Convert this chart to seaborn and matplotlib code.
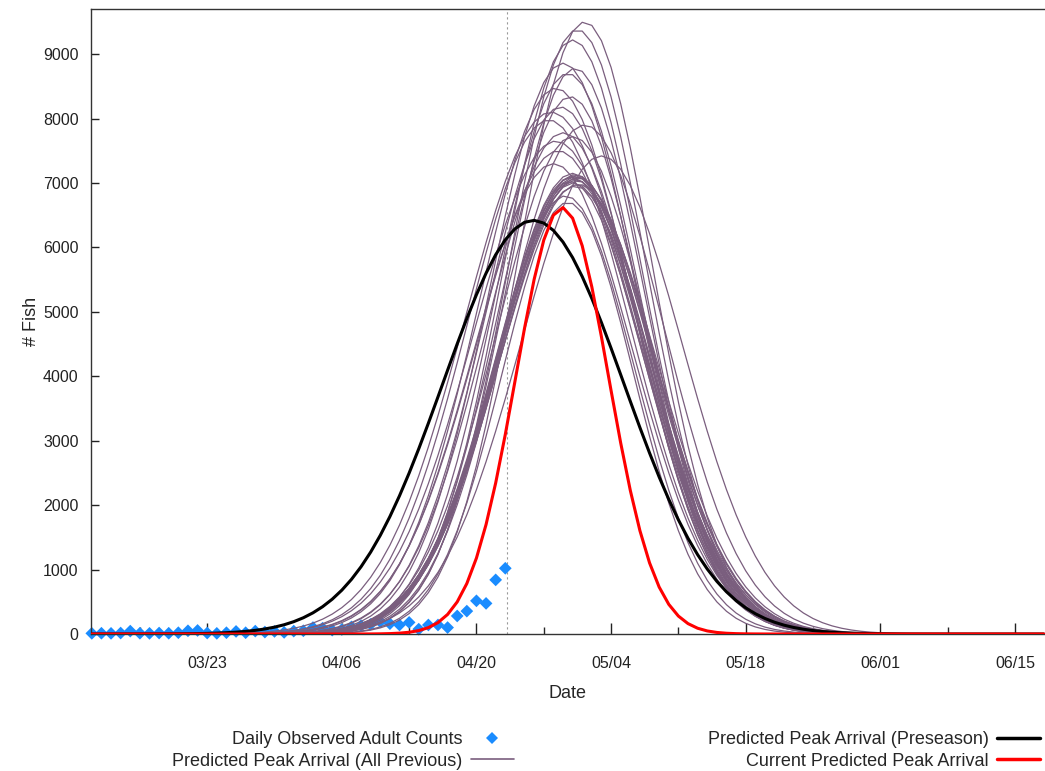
import matplotlib
matplotlib.use("Agg")
import matplotlib.pyplot as plt
from matplotlib.lines import Line2D
import seaborn as sns
import numpy as np
import pandas as pd

YEAR = "2023"

# Daily observed adult counts (03/11 -> 04/23)
obs_start = "03/11"
obs_counts = [10, 12, 10, 15, 45, 12, 10, 15, 12, 20, 50, 55, 15, 10, 20, 40, 20, 45, 30, 40, 25,
              45, 50, 100, 90, 60, 70, 110, 130, 150, 190, 160, 140, 180, 75, 140, 140, 100, 280,
              355, 515, 475, 840, 1020]

# Predicted peak arrival curves: peak date, peak count, spread (days)
prev_peak_dates = ["05/01 06:00", "04/30 12:00", "04/30 00:00", "04/29 00:00", "04/30 06:00",
                   "04/29 12:00", "04/28 06:00", "04/29 18:00", "04/28 18:00", "04/27 12:00",
                   "05/01 06:00", "04/29 00:00", "04/30 00:00", "05/03 00:00",
                   "04/30 00:00", "04/30 06:00", "04/30 03:00", "04/30 09:00", "04/29 21:00",
                   "04/30 12:00", "04/30 04:00", "04/30 08:00", "04/29 18:00", "04/30 02:00",
                   "04/30 14:00", "04/30 06:00", "04/29 06:00", "04/29 12:00",
                   "04/27 18:00", "04/28 06:00", "04/28 00:00", "04/28 12:00"]
prev_peak_counts = [9500, 9380, 9220, 8860, 8780, 8700, 8470, 8340, 8180, 7980, 7900, 7780, 7720,
                    7420, 7150, 7130, 7110, 7100, 7090, 7080, 7060, 7040, 7020, 7000, 6980, 6950,
                    6800, 6700, 8100, 7650, 7300, 7500]
prev_spreads = [7.0, 7.2, 7.3, 7.6, 7.2, 7.5, 8.0, 7.4, 7.8, 8.4, 8.2, 8.0, 7.9, 8.4, 7.9, 8.0,
                7.8, 8.1, 7.8, 8.0, 7.9, 8.1, 7.7, 7.8, 8.2, 7.9, 7.2, 6.8, 8.9, 8.6, 8.2, 8.4]

preseason_peak = ("04/25 22:00", 6420, 9.4)
current_peak = ("04/28 22:00", 6620, 4.8)

today = "04/23 04:00"
tick_labels = ["03/23", "04/06", "04/20", "05/04", "05/18", "06/01", "06/15"]
x_range = ("03/10 22:00", "06/18 03:00")
y_ticks = [0, 1000, 2000, 3000, 4000, 5000, 6000, 7000, 8000, 9000]

PURPLE = "#7a5e7e"
BLUE = "#1a8cff"


def to_date(s):
    return pd.to_datetime(YEAR + "/" + s)


days = pd.date_range(to_date("03/11"), to_date("06/18"), freq="D")


def run_curve(peak_date, peak, spread):
    t = (days - to_date(peak_date)) / pd.Timedelta(days=1)
    return peak * np.exp(-0.5 * (np.asarray(t) / spread) ** 2)


prev = pd.concat([
    pd.DataFrame({"date": days, "fish": run_curve(d, p, s), "curve": i})
    for i, (d, p, s) in enumerate(zip(prev_peak_dates, prev_peak_counts, prev_spreads))
])
obs = pd.DataFrame({"date": pd.date_range(to_date(obs_start), periods=len(obs_counts), freq="D"),
                    "fish": obs_counts})
pre = pd.DataFrame({"date": days, "fish": run_curve(*preseason_peak)})
cur = pd.DataFrame({"date": days, "fish": run_curve(*current_peak)})

sns.set_style("white")
plt.rcParams["font.family"] = ["Liberation Sans", "DejaVu Sans"]

fig, ax = plt.subplots(figsize=(10.45, 7.71), dpi=100)
fig.subplots_adjust(left=91 / 1045, right=1.0, top=1 - 9 / 771, bottom=1 - 634 / 771)

sns.scatterplot(data=obs, x="date", y="fish", marker="D", s=42, color=BLUE, edgecolor="none",
                ax=ax, zorder=2, clip_on=False)
sns.lineplot(data=prev, x="date", y="fish", units="curve", estimator=None, color=PURPLE,
             linewidth=0.9, ax=ax, zorder=3)
sns.lineplot(data=pre, x="date", y="fish", color="black", linewidth=2.2, ax=ax, zorder=4)
sns.lineplot(data=cur, x="date", y="fish", color="#ff0000", linewidth=2.2, ax=ax, zorder=5)

ax.axvline(to_date(today), color="#999999", linestyle=(0, (2, 2.5)), linewidth=0.8, zorder=1)

ax.set_xlim(to_date(x_range[0]), to_date(x_range[1]))
ax.set_ylim(0, 9700)

major = [to_date(t) for t in tick_labels]
minor = [m - pd.Timedelta(days=7) for m in major]
ax.set_xticks(major)
ax.set_xticklabels(tick_labels)
ax.set_xticks(minor, minor=True)
ax.set_yticks(y_ticks)

ax.tick_params(axis="x", which="major", direction="in", length=8, width=1, pad=16,
               labelsize=11.5, colors="#222222")
ax.tick_params(axis="x", which="minor", direction="in", length=5, width=1)
ax.tick_params(axis="y", direction="in", length=6, width=1, pad=9, labelsize=11.5,
               colors="#222222")
ax.tick_params(bottom=True, left=True, which="both")

for side in ["left", "top", "bottom"]:
    ax.spines[side].set_color("#333333")
    ax.spines[side].set_linewidth(1)
ax.spines["right"].set_visible(False)

ax.set_xlabel("Date", fontsize=13, labelpad=10)
ax.set_ylabel("# Fish", fontsize=13, labelpad=2)

left_handles = [
    Line2D([], [], linestyle="none", marker="D", markersize=6, color=BLUE, markeredgewidth=0),
    Line2D([], [], color=PURPLE, linewidth=1.2),
]
right_handles = [
    Line2D([], [], color="black", linewidth=2.5),
    Line2D([], [], color="#ff0000", linewidth=2.5),
]
legend_kw = dict(loc="upper right", frameon=False, markerfirst=False, fontsize=13,
                 handlelength=2.4, handletextpad=0.45, labelspacing=0.25, borderpad=0,
                 borderaxespad=0)
fig.legend(left_handles, ["Daily Observed Adult Counts", "Predicted Peak Arrival (All Previous)"],
           bbox_to_anchor=(514 / 1045, 1 - 731 / 771), **legend_kw)
fig.legend(right_handles, ["Predicted Peak Arrival (Preseason)", "Current Predicted Peak Arrival"],
           bbox_to_anchor=(1040 / 1045, 1 - 731 / 771), **legend_kw)

fig.savefig("out.png", dpi=100)
